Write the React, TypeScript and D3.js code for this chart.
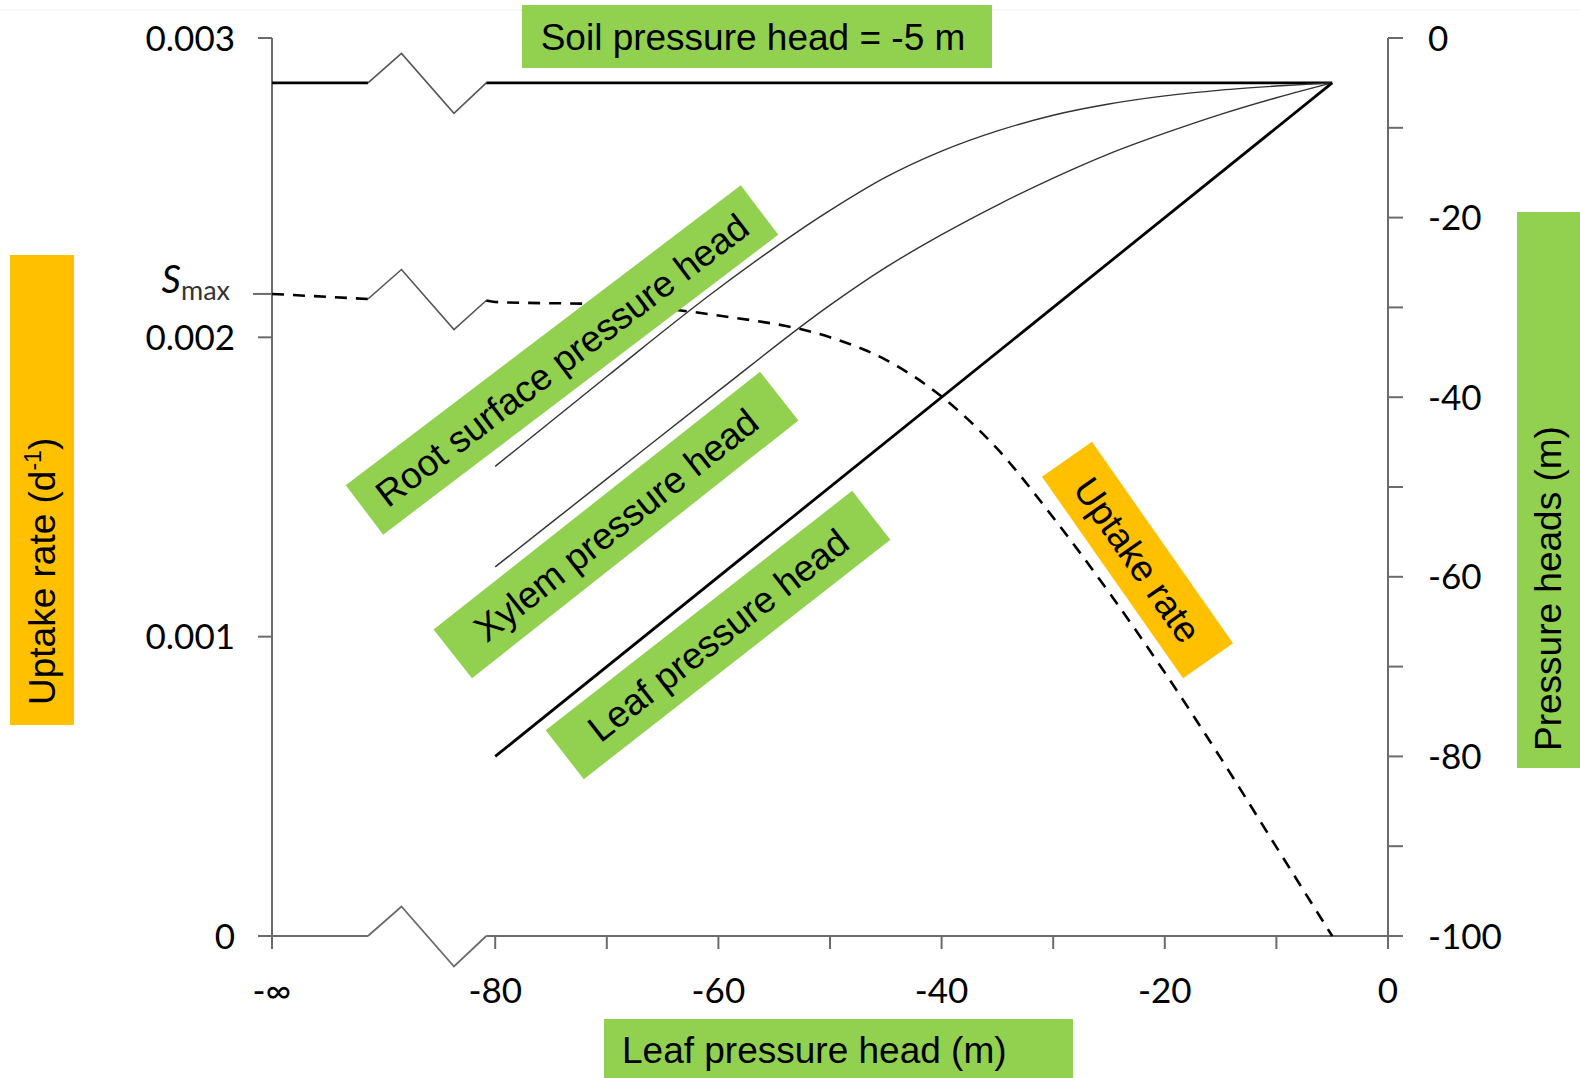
import React from 'react';
import * as d3 from 'd3';

const leafHead = [-80, -70, -60, -50, -45, -40, -35, -30, -25, -20, -15, -10, -5];
const rootHead = [-47.7, -37.7, -27.9, -19.2, -15.5, -12.6, -10.35, -8.6, -7.35, -6.45, -5.8, -5.35, -5.0];
const xylemHead = [-58.9, -49.1, -39.3, -29.75, -25.55, -21.9, -18.6, -15.6, -12.9, -10.6, -8.5, -6.65, -5.0];
const uptakeRate = [0.002118, 0.00211, 0.002073, 0.002, 0.001925, 0.001802, 0.001627, 0.001398, 0.001148, 0.00088, 0.000595, 0.000297, 0];

const soilHead = -5;
const smax = 0.002145;

// the "-inf" stretch left of the axis break
const farX = [-100, -91.4];
const farUptake = [0.002145, 0.002128];
const breakEndX = -80.8;
const breakEndUptake = 0.002123;

const xTicks = [-100, -80, -70, -60, -50, -40, -30, -20, -10, 0];
const xLabels = [
  { v: -100, t: '-\u221E' },
  { v: -80, t: '-80' },
  { v: -60, t: '-60' },
  { v: -40, t: '-40' },
  { v: -20, t: '-20' },
  { v: 0, t: '0' },
];
const leftTicks = [0, 0.001, 0.002, 0.003];
const leftLabels = ['0', '0.001', '0.002', '0.003'];
const rightTicks = d3.range(-100, 1, 10);
const rightLabels = [-100, -80, -60, -40, -20, 0];

const GREEN = '#92D050';
const ORANGE = '#FFC000';
const ARIAL = '"Liberation Sans", Arial, sans-serif';
const TICKFONT = 'Lato, "Open Sans", sans-serif';

const x = d3.scaleLinear().domain([-100, 0]).range([272, 1388]);
const yL = d3.scaleLinear().domain([0, 0.003]).range([936, 38]);
const yR = d3.scaleLinear().domain([-100, 0]).range([936, 38]);

const curve = d3.line<[number, number]>().x(d => d[0]).y(d => d[1]).curve(d3.curveMonotoneX);
const straight = d3.line<[number, number]>().x(d => d[0]).y(d => d[1]);

// break symbol drawn from the end of one segment to the start of the next
const zig = (y0: number, y1: number) => {
  const x0 = x(farX[1]);
  const x1 = x(breakEndX);
  return straight([
    [x0, y0],
    [x0 + 33.5, y0 - 29.5],
    [x0 + 86, y0 + 30.5],
    [x1, y1],
  ]);
};

const RotLabel = ({ cx, cy, w, h, angle, fill, text }: any) => (
  <g transform={`translate(${cx},${cy}) rotate(${angle})`}>
    <rect x={-w / 2} y={-h / 2} width={w} height={h} fill={fill} />
    <text x={0} y={13} textAnchor="middle" fontFamily={ARIAL} fontSize={37} fill="#000">
      {text}
    </text>
  </g>
);

export default function App() {
  const rootPts = leafHead.map((v, i) => [x(v), yR(rootHead[i])] as [number, number]);
  const xylemPts = leafHead.map((v, i) => [x(v), yR(xylemHead[i])] as [number, number]);
  const leafPts = [leafHead[0], leafHead[leafHead.length - 1]].map(v => [x(v), yR(v)] as [number, number]);
  const uptakePts = [[x(breakEndX), yL(breakEndUptake)] as [number, number]].concat(
    leafHead.map((v, i) => [x(v), yL(uptakeRate[i])] as [number, number])
  );
  const farUptakePts = farX.map((v, i) => [x(v), yL(farUptake[i])] as [number, number]);
  const soilFar = farX.map(v => [x(v), yR(soilHead)] as [number, number]);
  const soilNear = [breakEndX, leafHead[leafHead.length - 1]].map(v => [x(v), yR(soilHead)] as [number, number]);

  const axisColor = '#6b6b6b';
  const x0 = x(-100);
  const x1 = x(0);
  const yb = yL(0);

  return (
    <svg width={1580} height={1078} style={{ position: 'absolute', left: 0, top: 0, background: '#fff' }}>
      <line x1={0} x2={1580} y1={10} y2={10} stroke="#efefef" strokeWidth={1} />

      {/* axes */}
      <line x1={x0} x2={x0} y1={yL(0.003)} y2={yb + 13} stroke={axisColor} strokeWidth={2} />
      <line x1={x1} x2={x1} y1={yR(0)} y2={yb + 13} stroke={axisColor} strokeWidth={2} />
      <line x1={x0 - 14} x2={x(farX[1])} y1={yb} y2={yb} stroke={axisColor} strokeWidth={2} />
      <path d={zig(yb, yb) || ''} fill="none" stroke={axisColor} strokeWidth={1.8} />
      <line x1={x(breakEndX)} x2={x1 + 15} y1={yb} y2={yb} stroke={axisColor} strokeWidth={2} />

      {xTicks.map(t => (
        <line key={'xt' + t} x1={x(t)} x2={x(t)} y1={yb} y2={yb + 13} stroke={axisColor} strokeWidth={2} />
      ))}
      {xLabels.map(d => (
        <text key={'xl' + d.v} x={x(d.v)} y={1003} textAnchor="middle" fontFamily={TICKFONT} fontSize={35} fill="#000">
          {d.t}
        </text>
      ))}

      {leftTicks.map((t, i) => (
        <g key={'lt' + t}>
          <line x1={x0 - 14} x2={x0} y1={yL(t)} y2={yL(t)} stroke={axisColor} strokeWidth={2} />
          <text x={235} y={yL(t) + 12.5} textAnchor="end" fontFamily={TICKFONT} fontSize={35} fill="#000">
            {leftLabels[i]}
          </text>
        </g>
      ))}
      <line x1={x0 - 19} x2={x0} y1={yL(smax)} y2={yL(smax)} stroke={axisColor} strokeWidth={2} />
      <text x={230} y={yL(smax) - 1} textAnchor="end" fontFamily={TICKFONT} fill="#000">
        <tspan fontSize={38} fontStyle="italic">S</tspan>
        <tspan fontSize={27} dy={7} fill="#333">max</tspan>
      </text>

      {rightTicks.map(t => (
        <line key={'rt' + t} x1={x1} x2={x1 + 15} y1={yR(t)} y2={yR(t)} stroke={axisColor} strokeWidth={2} />
      ))}
      {rightLabels.map(t => (
        <text key={'rl' + t} x={1428} y={yR(t) + 12.5} fontFamily={TICKFONT} fontSize={35} fill="#000">
          {t}
        </text>
      ))}

      {/* soil pressure head */}
      <path d={straight(soilFar) || ''} fill="none" stroke="#000" strokeWidth={2.8} />
      <path d={zig(yR(soilHead), yR(soilHead)) || ''} fill="none" stroke="#555" strokeWidth={1.6} />
      <path d={straight(soilNear) || ''} fill="none" stroke="#000" strokeWidth={2.8} />

      {/* uptake rate */}
      <path d={straight(farUptakePts) || ''} fill="none" stroke="#000" strokeWidth={2.6} strokeDasharray="12 9" />
      <path d={zig(farUptakePts[1][1], uptakePts[0][1]) || ''} fill="none" stroke="#555" strokeWidth={1.6} />
      <path d={curve(uptakePts) || ''} fill="none" stroke="#000" strokeWidth={2.6} strokeDasharray="12 9" />

      {/* root, xylem, leaf */}
      <path d={curve(rootPts) || ''} fill="none" stroke="#333" strokeWidth={1.4} />
      <path d={curve(xylemPts) || ''} fill="none" stroke="#333" strokeWidth={1.4} />
      <path d={straight(leafPts) || ''} fill="none" stroke="#000" strokeWidth={2.8} />

      {/* labels */}
      <rect x={522} y={5} width={470} height={63} fill={GREEN} />
      <text x={753} y={50} textAnchor="middle" fontFamily={ARIAL} fontSize={37} fill="#000">
        Soil pressure head = -5 m
      </text>

      <rect x={604} y={1019} width={469} height={59} fill={GREEN} />
      <text x={622} y={1063} fontFamily={ARIAL} fontSize={37} fill="#000">
        Leaf pressure head (m)
      </text>

      <rect x={10} y={255} width={64} height={470} fill={ORANGE} />
      <text transform="translate(55,705) rotate(-90)" fontFamily={ARIAL} fontSize={37} fill="#000">
        Uptake rate (d<tspan fontSize={23} dy={-14}>-1</tspan><tspan dy={14}>)</tspan>
      </text>

      <rect x={1517} y={212} width={63} height={556} fill={GREEN} />
      <text transform="translate(1561,751) rotate(-90)" fontFamily={ARIAL} fontSize={37} fill="#000">
        Pressure heads (m)
      </text>

      <RotLabel cx={562} cy={360} w={496} h={62} angle={-37.2} fill={GREEN} text="Root surface pressure head" />
      <RotLabel cx={616} cy={525} w={416} h={62} angle={-38.3} fill={GREEN} text="Xylem pressure head" />
      <RotLabel cx={718} cy={635} w={389} h={62} angle={-38} fill={GREEN} text="Leaf pressure head" />
      <RotLabel cx={1137.5} cy={560} w={246} h={61} angle={55} fill={ORANGE} text="Uptake rate" />
    </svg>
  );
}
